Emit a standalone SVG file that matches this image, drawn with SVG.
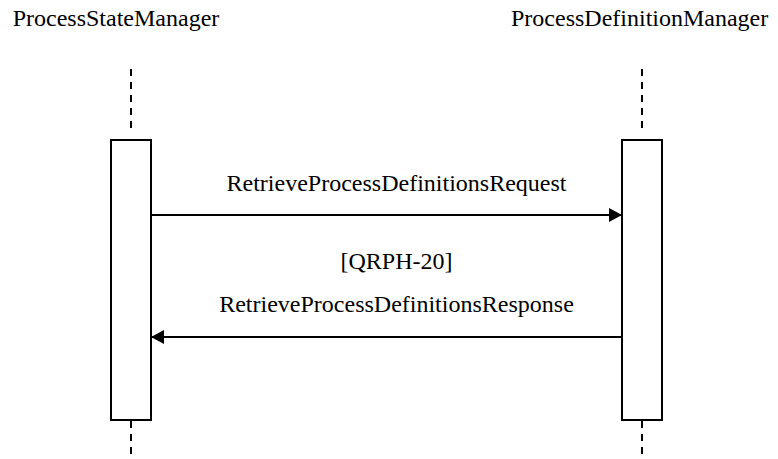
<svg xmlns="http://www.w3.org/2000/svg" width="778" height="459" viewBox="0 0 778 459">
<style>
.life{stroke:#000;stroke-width:2;stroke-dasharray:7,6;fill:none}
.act{fill:#fff;stroke:#000;stroke-width:2}
.msg{stroke:#000;stroke-width:2;fill:none}
</style>
<defs>
<marker id="ah" markerWidth="13" markerHeight="14" refX="13" refY="7" orient="auto" markerUnits="userSpaceOnUse">
<path d="M0,0 L13,7 L0,14 Z" fill="#000"/>
</marker>
</defs>
<rect width="778" height="459" fill="#fff"/>
<g font-family="'Liberation Serif', 'Times New Roman', Times, serif" font-size="24" fill="#000">
<g id="ProcessStateManager">
<text x="12.7" y="26">ProcessStateManager</text>
<line class="life" x1="131" y1="69" x2="131" y2="132"/>
<line class="life" x1="131" y1="421" x2="131" y2="459"/>
<rect class="act" x="111" y="140" width="40" height="280"/>
</g>
<g id="ProcessDefinitionManager">
<text x="511" y="26">ProcessDefinitionManager</text>
<line class="life" x1="642" y1="69" x2="642" y2="132"/>
<line class="life" x1="642" y1="421" x2="642" y2="459"/>
<rect class="act" x="622" y="140" width="40" height="280"/>
</g>
<g id="connectors">
<line class="msg" x1="151" y1="215" x2="622" y2="215" marker-end="url(#ah)"/>
<text x="396.5" y="190.5" text-anchor="middle">RetrieveProcessDefinitionsRequest</text>
<text x="396.5" y="268.5" text-anchor="middle">[QRPH-20]</text>
<text x="396.5" y="311.5" text-anchor="middle">RetrieveProcessDefinitionsResponse</text>
<line class="msg" x1="622" y1="337" x2="151" y2="337" marker-end="url(#ah)"/>
</g>
</g>
</svg>
